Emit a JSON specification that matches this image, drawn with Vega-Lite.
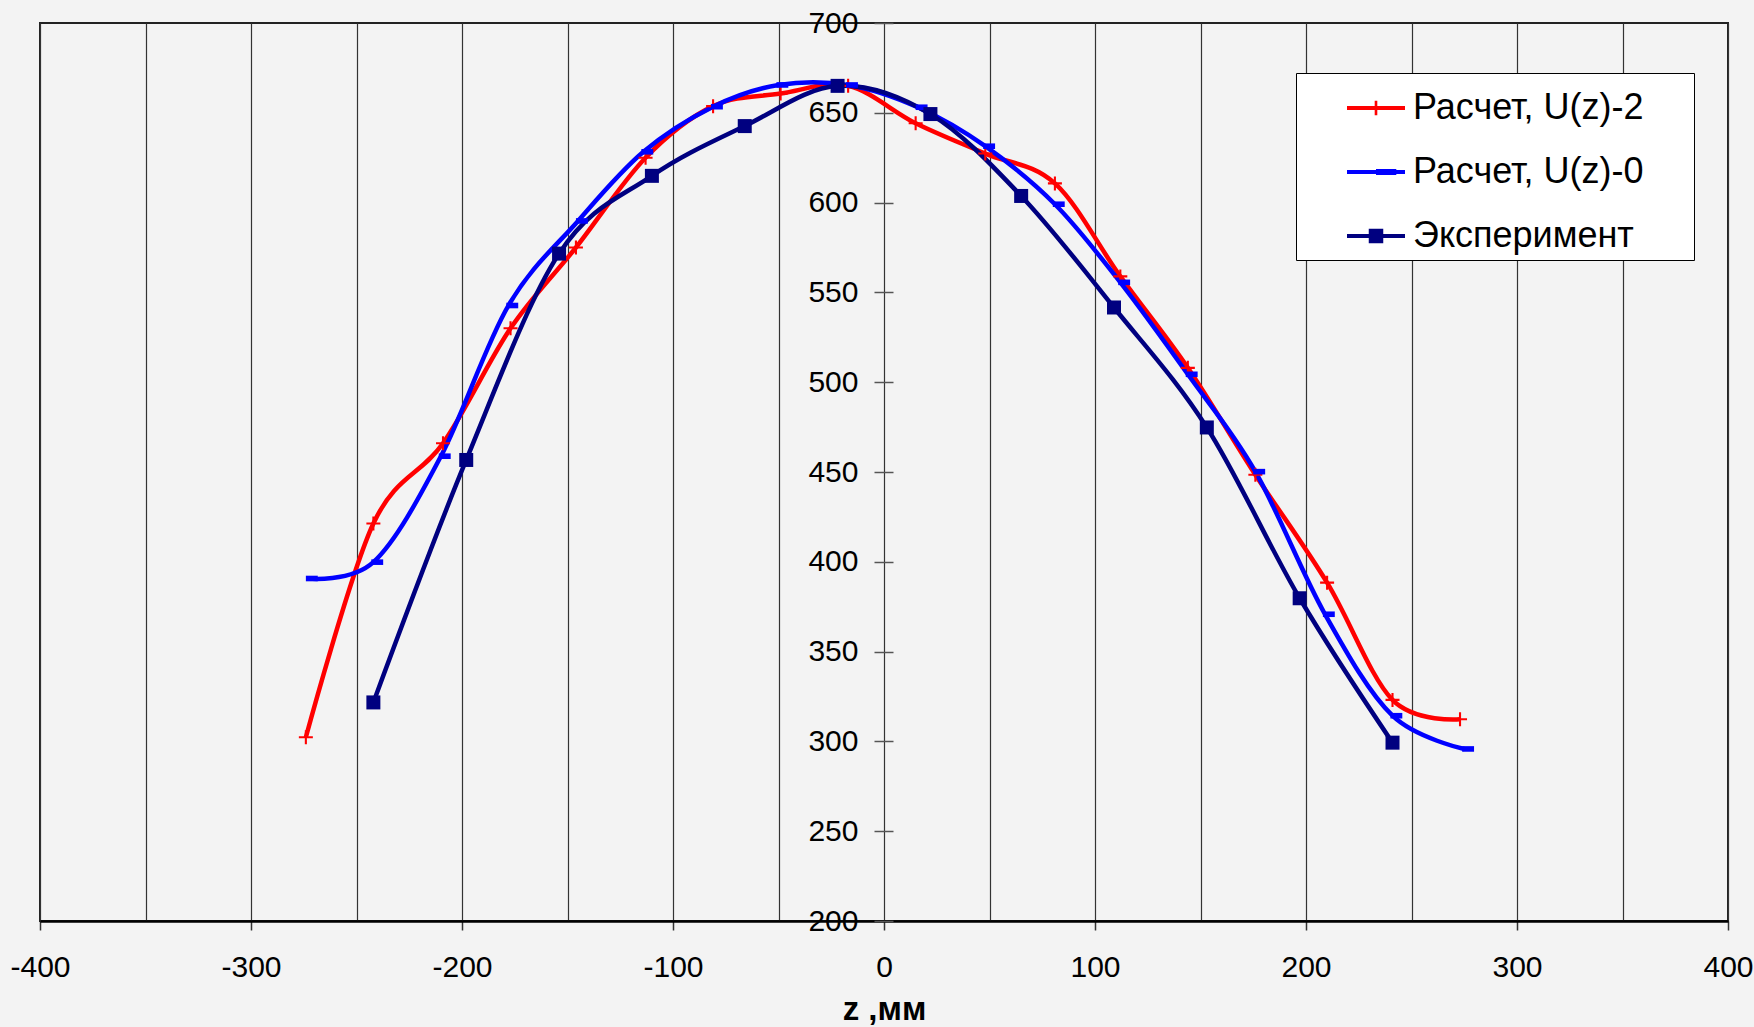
{
  "$schema": "https://vega.github.io/schema/vega-lite/v6.json",
  "width": 1688,
  "height": 898,
  "autosize": {"type": "none"},
  "padding": {"left": 40, "top": 23, "right": 26, "bottom": 106},
  "background": "#f3f3f3",
  "config": {
    "view": {"stroke": "#222", "strokeWidth": 2},
    "font": "Liberation Sans",
    "legend": {"strokeColor": "#000", "fillColor": "#ffffff", "symbolStrokeWidth": 0}
  },
  "data": {
    "values": [
      {"series": "Расчет, U(z)-2", "z": -274, "U": 302.3},
      {"series": "Расчет, U(z)-2", "z": -242, "U": 421.3},
      {"series": "Расчет, U(z)-2", "z": -209, "U": 466},
      {"series": "Расчет, U(z)-2", "z": -177, "U": 530},
      {"series": "Расчет, U(z)-2", "z": -146, "U": 575},
      {"series": "Расчет, U(z)-2", "z": -113, "U": 625},
      {"series": "Расчет, U(z)-2", "z": -81, "U": 653.7},
      {"series": "Расчет, U(z)-2", "z": -49, "U": 660.7},
      {"series": "Расчет, U(z)-2", "z": -17, "U": 665},
      {"series": "Расчет, U(z)-2", "z": 15, "U": 644.2},
      {"series": "Расчет, U(z)-2", "z": 48, "U": 627.3},
      {"series": "Расчет, U(z)-2", "z": 81, "U": 610.7},
      {"series": "Расчет, U(z)-2", "z": 112, "U": 558.9},
      {"series": "Расчет, U(z)-2", "z": 144, "U": 508},
      {"series": "Расчет, U(z)-2", "z": 176, "U": 448.5},
      {"series": "Расчет, U(z)-2", "z": 210, "U": 388.4},
      {"series": "Расчет, U(z)-2", "z": 241, "U": 323.1},
      {"series": "Расчет, U(z)-2", "z": 273, "U": 312.3},
      {"series": "Расчет, U(z)-0", "z": -273, "U": 390.7},
      {"series": "Расчет, U(z)-0", "z": -242, "U": 399.8},
      {"series": "Расчет, U(z)-0", "z": -210, "U": 458.8},
      {"series": "Расчет, U(z)-0", "z": -178, "U": 542.7},
      {"series": "Расчет, U(z)-0", "z": -145, "U": 589.8},
      {"series": "Расчет, U(z)-0", "z": -114, "U": 628.3},
      {"series": "Расчет, U(z)-0", "z": -81, "U": 653.4},
      {"series": "Расчет, U(z)-0", "z": -50, "U": 665.5},
      {"series": "Расчет, U(z)-0", "z": -17, "U": 665.5},
      {"series": "Расчет, U(z)-0", "z": 16, "U": 653.1},
      {"series": "Расчет, U(z)-0", "z": 48, "U": 631.4},
      {"series": "Расчет, U(z)-0", "z": 81, "U": 599.1},
      {"series": "Расчет, U(z)-0", "z": 112, "U": 555.6},
      {"series": "Расчет, U(z)-0", "z": 144, "U": 504.4},
      {"series": "Расчет, U(z)-0", "z": 176, "U": 450.2},
      {"series": "Расчет, U(z)-0", "z": 209, "U": 370.8},
      {"series": "Расчет, U(z)-0", "z": 241, "U": 314.3},
      {"series": "Расчет, U(z)-0", "z": 275, "U": 295.8},
      {"series": "Эксперимент", "z": -242, "U": 321.7},
      {"series": "Эксперимент", "z": -198, "U": 456.7},
      {"series": "Эксперимент", "z": -154, "U": 571.6},
      {"series": "Эксперимент", "z": -110, "U": 614.9},
      {"series": "Эксперимент", "z": -66, "U": 642.6},
      {"series": "Эксперимент", "z": -22, "U": 665},
      {"series": "Эксперимент", "z": 22, "U": 649.3},
      {"series": "Эксперимент", "z": 65, "U": 603.7},
      {"series": "Эксперимент", "z": 109, "U": 541.6},
      {"series": "Эксперимент", "z": 153, "U": 474.8},
      {"series": "Эксперимент", "z": 197, "U": 379.7},
      {"series": "Эксперимент", "z": 241, "U": 299.3}
    ]
  },
  "encoding": {
    "x": {
      "field": "z",
      "type": "quantitative",
      "scale": {"domain": [-400, 400], "nice": false, "zero": false},
      "axis": {
        "values": [-400, -350, -300, -250, -200, -150, -100, -50, 0, 50, 100, 150, 200, 250, 300, 350, 400],
        "labelExpr": "datum.value % 100 === 0 ? '' + datum.value : ''",
        "labelFontSize": 30,
        "labelFont": "Liberation Sans",
        "labelColor": "#000",
        "labelPadding": 22,
        "labelOverlap": false,
        "labelFlush": false,
        "tickSize": 9,
        "tickColor": "#333",
        "tickWidth": 1.5,
        "tickOpacity": {"condition": {"test": "datum.value % 100 !== 0", "value": 0}, "value": 1},
        "domain": true,
        "domainColor": "#000",
        "domainWidth": 2.5,
        "grid": true,
        "gridColor": "#333",
        "gridWidth": 1.2,
        "gridOpacity": 1,
        "title": "z ,мм",
        "titleFont": "Liberation Sans",
        "titleFontSize": 33,
        "titleFontWeight": "bold",
        "titleColor": "#000",
        "titleX": 844,
        "titleY": 98,
        "titleAlign": "center",
        "titleBaseline": "alphabetic"
      }
    },
    "y": {
      "field": "U",
      "type": "quantitative",
      "scale": {"domain": [200, 700], "nice": false, "zero": false},
      "axis": {
        "values": [200, 250, 300, 350, 400, 450, 500, 550, 600, 650, 700],
        "offset": -853,
        "domain": false,
        "grid": false,
        "tickSize": 19,
        "tickColor": "#555",
        "tickWidth": 1.5,
        "labelFontSize": 30,
        "labelFont": "Liberation Sans",
        "labelColor": "#000",
        "labelPadding": 16,
        "labelOverlap": false,
        "labelFlush": false,
        "title": null
      }
    }
  },
  "layer": [
    {
      "mark": {"type": "point", "filled": true, "size": 0, "opacity": 1},
      "encoding": {
        "color": {
          "field": "series",
          "type": "nominal",
          "scale": {
            "domain": ["Расчет, U(z)-2", "Расчет, U(z)-0", "Эксперимент"],
            "range": ["#ff0000", "#0000ff", "#000080"]
          },
          "legend": {
            "orient": "none",
            "legendX": 1256,
            "legendY": 50,
            "title": "\u00a0",
            "titleOrient": "right",
            "titleFontSize": 1,
            "titlePadding": 44,
            "padding": 6,
            "rowPadding": 17,
            "symbolOffset": 45,
            "labelOffset": 8,
            "labelFontSize": 36,
            "labelFont": "Liberation Sans",
            "labelColor": "#000",
            "labelLimit": 500,
            "symbolSize": 3364,
            "symbolOpacity": 1
          }
        },
        "shape": {
          "field": "series",
          "type": "nominal",
          "scale": {
            "domain": ["Расчет, U(z)-2", "Расчет, U(z)-0", "Эксперимент"],
            "range": [
              "M-1,-0.07H1V0.07H-1Z M-0.045,-0.25H0.045V0.25H-0.045Z",
              "M-1,-0.07H1V0.07H-1Z M0,-0.1H0.7V0.1H0Z",
              "M-1,-0.07H1V0.07H-1Z M-0.25,-0.25H0.25V0.25H-0.25Z"
            ]
          }
        }
      }
    },
    {
      "mark": {"type": "line", "interpolate": "cardinal", "strokeWidth": 4.5},
      "encoding": {
        "color": {"field": "series", "type": "nominal"}
      }
    },
    {
      "transform": [{"filter": "datum.series === 'Расчет, U(z)-2'"}],
      "mark": {"type": "point", "filled": true, "size": 196, "opacity": 1, "color": "#ff0000", "shape": "M-1,-0.15H1V0.15H-1Z M-0.15,-1H0.15V1H-0.15Z"},
      "encoding": {}
    },
    {
      "transform": [{"filter": "datum.series === 'Расчет, U(z)-0'"}],
      "mark": {"type": "point", "filled": true, "size": 196, "opacity": 1, "color": "#0000ff", "shape": "M-0.3,-0.4H1.4V0.4H-0.3Z"},
      "encoding": {}
    },
    {
      "transform": [{"filter": "datum.series === 'Эксперимент'"}],
      "mark": {"type": "point", "filled": true, "size": 196, "opacity": 1, "color": "#000080", "shape": "square"},
      "encoding": {}
    }
  ]
}
